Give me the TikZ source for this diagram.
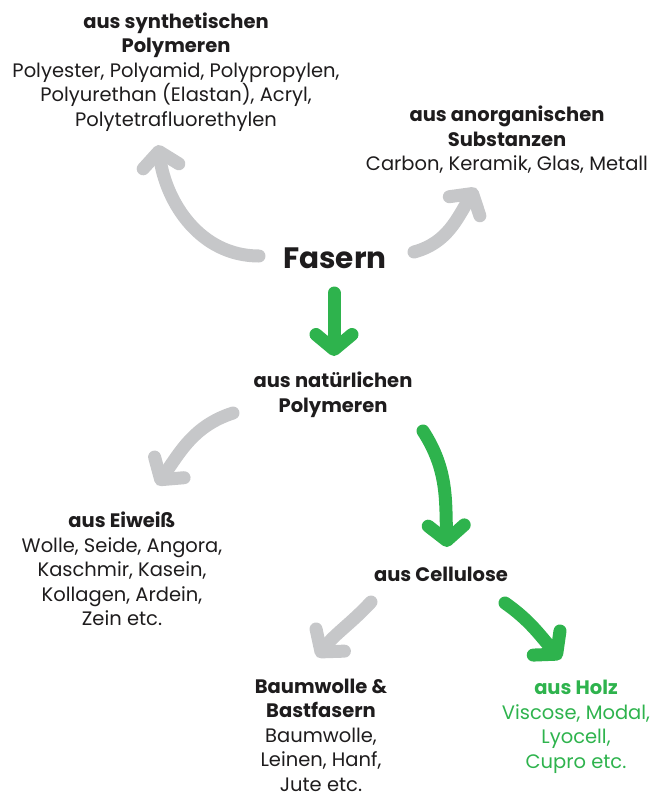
\documentclass[tikz,border=0pt]{standalone}
\usepackage{fontspec}
\setmainfont{Poppins}
\usetikzlibrary{arrows.meta}

\definecolor{fgrey}{HTML}{C6C7C9}
\definecolor{fgreen}{HTML}{2EB34D}
\definecolor{ftext}{HTML}{1E1C1D}

\tikzset{
	txt/.style={align=center,inner sep=0pt,text=ftext,font=\fontsize{19.5}{24.5}\selectfont},
	greentxt/.style={txt,text=fgreen},
	fib/.style={line width=13pt,line cap=round,-{Straight Barb[round,length=15pt,width=36pt]}},
	greyarrow/.style={fib,draw=fgrey},
	greenarrow/.style={fib,draw=fgreen}
}

\begin{document}
\begin{tikzpicture}[x=1pt,y=1pt]
	\useasboundingbox (0,0) rectangle (653,-796);

	%Main node
	\node [txt,font=\fontsize{29.5}{34}\selectfont\bfseries] (fasern) at (335,-258) {Fasern};

	%Top row
	\node [txt] (syn) at (176,-72) {\textbf{aus synthetischen}\\\textbf{Polymeren}\\Polyester, Polyamid, Polypropylen,\\Polyurethan (Elastan), Acryl,\\Polytetrafluorethylen};
	\node [txt] (anorg) at (507,-140) {\textbf{aus anorganischen}\\\textbf{Substanzen}\\Carbon, Keramik, Glas, Metall};

	%Natural polymers
	\node [txt] (nat) at (333,-395) {\textbf{aus natürlichen}\\\textbf{Polymeren}};
	\node [txt] (eiw) at (122,-569) {\textbf{aus Eiweiß}\\Wolle, Seide, Angora,\\Kaschmir, Kasein,\\Kollagen, Ardein,\\Zein etc.};
	\node [txt] (cell) at (441,-574) {\textbf{aus Cellulose}};

	%Cellulose
	\node [txt] (baum) at (321,-735) {\textbf{Baumwolle \&}\\\textbf{Bastfasern}\\Baumwolle,\\Leinen, Hanf,\\Jute etc.};
	\node [greentxt] (holz) at (576,-727) {\textbf{aus Holz}\\Viscose, Modal,\\Lyocell,\\Cupro etc.};

	%Arrows from Fasern
	\draw [greyarrow] ([shift={(-76,2)}]fasern.center) to [out=180,in=-82] ([shift={(-18,-73)}]syn.center);
	\draw [greyarrow] ([shift={(79,6)}]fasern.center) to [out=15,in=-122] ([shift={(-31,-48)}]anorg.center);
	\draw [greenarrow] ([shift={(-1,-35)}]fasern.center) to ([shift={(1,39)}]nat.center);

	%Arrows from natural polymers
	\draw [greyarrow] ([shift={(-100,-18)}]nat.center) to [out=198,in=55] ([shift={(35,84)}]eiw.center);
	\draw [greenarrow] ([shift={(90,-36)}]nat.center) to [out=-57,in=92] ([shift={(6,27)}]cell.center);

	%Arrows from Cellulose
	\draw [greyarrow] ([shift={(-70,-28)}]cell.center) to [out=-133,in=52] ([shift={(-4,78)}]baum.center);
	\draw [greenarrow] ([shift={(64,-29)}]cell.center) to [out=-35,in=132] ([shift={(-15,68)}]holz.center);
\end{tikzpicture}
\end{document}
